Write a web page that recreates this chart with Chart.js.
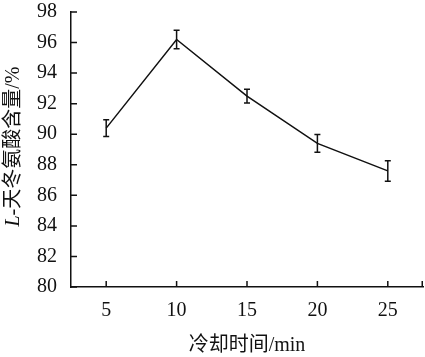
<!DOCTYPE html>
<html><head><meta charset="utf-8">
<script src="https://cdn.jsdelivr.net/npm/chart.js@4/dist/chart.umd.min.js"></script>
<style>html,body{margin:0;padding:0;background:#fff}#wrap{width:425px;height:357px}</style>
</head><body><div id="wrap"><canvas id="c" width="425" height="357"></canvas></div>
<script>
const categories = ['5', '10', '15', '20', '25'];
const values = [90.4, 96.2, 92.5, 89.4, 87.6];
const errors = [0.55, 0.6, 0.45, 0.58, 0.67];
const yTicks = [80, 82, 84, 86, 88, 90, 92, 94, 96, 98];
const xTitle = '冷却时间/min';
const yTitleItalic = 'L';
const yTitleRest = '-天冬氨酸含量/%';

const FONT = '"Liberation Serif", "Noto Sans CJK SC", serif';

const extras = {
  id: 'extras',
  afterDatasetsDraw(chart) {
    const ctx = chart.ctx, xs = chart.scales.x, ys = chart.scales.y, ca = chart.chartArea;
    ctx.save();
    ctx.strokeStyle = '#111';
    ctx.lineWidth = 1.5;
    values.forEach((v, i) => {
      const x = xs.getPixelForValue(i);
      const yt = ys.getPixelForValue(v + errors[i]);
      const yb = ys.getPixelForValue(v - errors[i]);
      ctx.beginPath();
      ctx.moveTo(x, yt); ctx.lineTo(x, yb);
      ctx.moveTo(x - 3, yt); ctx.lineTo(x + 3, yt);
      ctx.moveTo(x - 3, yb); ctx.lineTo(x + 3, yb);
      ctx.stroke();
    });
    ctx.beginPath();
    yTicks.forEach(t => {
      const y = ys.getPixelForValue(t);
      ctx.moveTo(ca.left, y); ctx.lineTo(ca.left + 6, y);
    });
    categories.forEach((c, i) => {
      const x = xs.getPixelForValue(i);
      ctx.moveTo(x, ca.bottom); ctx.lineTo(x, ca.bottom - 6);
    });
    ctx.moveTo(ca.right - 0.75, ca.bottom); ctx.lineTo(ca.right - 0.75, ca.bottom - 6);
    ctx.stroke();
    const fI = 'italic 20px ' + FONT, fN = '20px ' + FONT;
    ctx.font = fI; const wI = ctx.measureText(yTitleItalic).width;
    ctx.font = fN; const wN = ctx.measureText(yTitleRest).width;
    const total = wI + wN;
    const cy = (ca.top + ca.bottom) / 2 - 3;
    ctx.translate(14, cy);
    ctx.rotate(-Math.PI / 2);
    ctx.fillStyle = '#111';
    ctx.textBaseline = 'middle';
    ctx.textAlign = 'left';
    ctx.font = fI; ctx.fillText(yTitleItalic, -total / 2, 0);
    ctx.font = fN; ctx.fillText(yTitleRest, -total / 2 + wI, 0);
    ctx.restore();
  }
};

new Chart(document.getElementById('c'), {
  type: 'line',
  data: {
    labels: categories,
    datasets: [{
      data: values,
      borderColor: '#111',
      borderWidth: 1.5,
      pointRadius: 0,
      tension: 0,
      fill: false
    }]
  },
  options: {
    responsive: false,
    animation: false,
    devicePixelRatio: 1,
    layout: { padding: { top: 0, right: 2, left: 0, bottom: 0 } },
    plugins: { legend: { display: false }, tooltip: { enabled: false } },
    scales: {
      x: {
        type: 'category',
        offset: true,
        grid: { display: false, drawTicks: false },
        border: { display: true, color: '#111', width: 1.5 },
        ticks: { color: '#111', font: { family: FONT, size: 20 }, padding: 12, maxRotation: 0 },
        title: { display: true, text: xTitle, color: '#111', font: { family: FONT, size: 20 }, padding: { top: 0, bottom: -1 } },
        afterFit(s) { s.height = 70; s.paddingLeft = 0; s.paddingRight = 0; }
      },
      y: {
        min: 80, max: 98,
        grid: { display: false, drawTicks: false },
        border: { display: true, color: '#111', width: 1.5 },
        ticks: { color: '#111', font: { family: FONT, size: 20 }, padding: 14, stepSize: 2,
          callback: (v) => yTicks.includes(v) ? String(v) : null },
        title: { display: false },
        afterFit(s) { s.width = 71; s.paddingTop = 12; s.paddingBottom = 0; }
      }
    }
  },
  plugins: [extras]
});
</script>
</body></html>
